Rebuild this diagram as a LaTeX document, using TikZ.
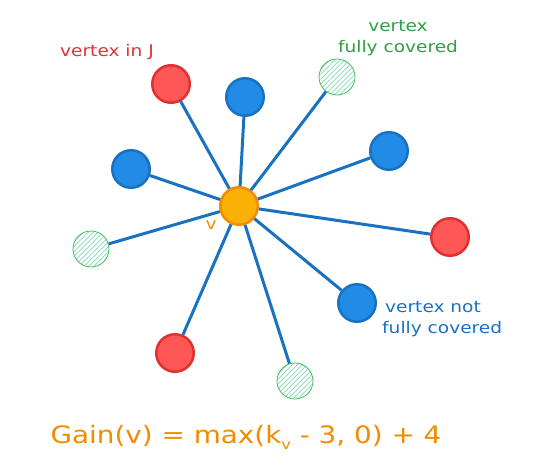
\documentclass[tikz,border=0pt]{standalone}
\usepackage{fontspec}
\setmainfont[FakeStretch=1.16]{DejaVu Sans}
\usetikzlibrary{patterns.meta}
\definecolor{edgeblue}{HTML}{1971C2}
\definecolor{fillblue}{HTML}{228BE6}
\definecolor{fillred}{HTML}{FF5656}
\definecolor{edgered}{HTML}{E03131}
\definecolor{fillorange}{HTML}{FAB005}
\definecolor{edgeorange}{HTML}{F08C00}
\definecolor{edgegreen}{HTML}{40C057}
\definecolor{hatchgreen}{HTML}{7ED9B4}
\definecolor{textgreen}{HTML}{2F9E44}
\begin{document}
\begin{tikzpicture}
      [
      x=1pt, y=-1pt,
      vertex/.style={circle,draw,line width=2.5pt,inner sep=0pt,minimum size=37.5pt},
      blue vertex/.style={vertex,fill=fillblue,draw=edgeblue},
      red vertex/.style={vertex,fill=fillred,draw=edgered},
      covered/.style={circle,draw=edgegreen,line width=0.8pt,inner sep=0pt,minimum size=36pt,
        pattern={Lines[angle=45,distance=3.5pt,line width=0.7pt]},pattern color=hatchgreen},
      center vertex/.style={vertex,fill=fillorange,draw=edgeorange},
      edge/.style={draw=edgeblue,line width=3pt},
      note/.style={font=\fontsize{16}{21.5}\selectfont,inner sep=0pt}
      ]
      \useasboundingbox (0,0) rectangle (540,474);
      \node (v) at (239,206) [center vertex] {};
      \node (j1) at (171,84) [red vertex] {};
      \node (j2) at (450,237) [red vertex] {};
      \node (j3) at (175,353) [red vertex] {};
      \node (b1) at (245,97) [blue vertex] {};
      \node (b2) at (131,169) [blue vertex] {};
      \node (b3) at (389,151) [blue vertex] {};
      \node (b4) at (357,303) [blue vertex] {};
      \node (c1) at (337,77) [covered] {};
      \node (c2) at (91,249) [covered] {};
      \node (c3) at (295,381) [covered] {};
      \foreach \n in {j1,j2,j3,b1,b2,b3,b4,c1,c2,c3}
        \draw [edge] (v) to (\n);
      % labels
      \node (vlabel) at (211,225) [text=edgeorange,note] {v};
      \node (jlabel) at (107,52) [text=edgered,note] {vertex in J};
      \node (clabel) at (398,38) [text=textgreen,note,align=center] {vertex\\fully covered};
      \node (blabel) at (382,319) [anchor=west,text=edgeblue,note,align=left] {\hspace{3pt}vertex not\\fully covered};
      \node (gain) at (246,437) [text=edgeorange,font=\fontsize{24}{30}\selectfont]
        {Gain(v) = max(k\raisebox{-6pt}{\fontsize{14}{14}\selectfont v} - 3, 0) + 4};
    \end{tikzpicture}
\end{document}
